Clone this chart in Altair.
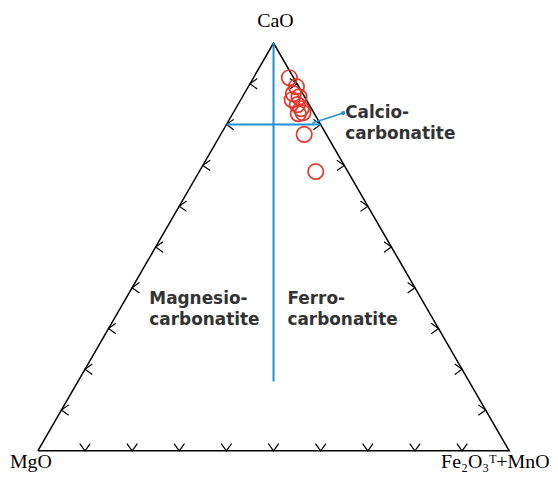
import altair as alt
import pandas as pd
import numpy as np

SQ = float(np.sqrt(3) / 2)

# ---- sample compositions (CaO, MgO, Fe2O3T+MnO, normalised %) ----
cao = [91.5, 89.3, 87.6, 86.1, 86.8, 84.9, 83.9, 82.9, 82.7, 77.6, 68.5]
feo = [7.6, 10.2, 10.4, 10.9, 12.0, 12.6, 13.9, 14.8, 13.9, 17.7, 24.7]
mgo = [round(100 - c - f, 1) for c, f in zip(cao, feo)]

# ---- frame / ticks / field boundaries (ternary %) ----
tick_levels = [10, 20, 30, 40, 50, 60, 70, 80, 90]
frame_cao = [0, 0, 100, 0]
frame_mgo = [100, 0, 0, 100]
frame_feo = [0, 100, 0, 0]

bound_seg = ["h", "h", "v", "v"]
bound_cao = [80, 80, 100, 17]
bound_mgo = [20, 0, 0, 41.5]
bound_feo = [0, 20, 0, 41.5]

vertex_text = ["CaO", "MgO", "Fe\u2082O\u2083\u1d40+MnO"]
vertex_x = [0.504, -0.0148, 0.9705]
vertex_y = [0.9008, -0.0359, -0.0359]

field_text = ["Magnesio-", "carbonatite", "Ferro-", "carbonatite", "Calcio-", "carbonatite"]
field_x = [0.2365, 0.2365, 0.5295, 0.5295, 0.6519, 0.6519]
field_y = [0.3228, 0.2785, 0.3228, 0.2785, 0.7173, 0.6730]

pointer_x = [0.5823, 0.6477]
pointer_y = [0.6962, 0.7173]


def tern(df):
    s = df["cao"] + df["mgo"] + df["feo"]
    df["X"] = (df["feo"] + df["cao"] / 2) / s
    df["Y"] = df["cao"] / s * SQ
    return df


samples = tern(pd.DataFrame({"cao": cao, "mgo": mgo, "feo": feo}))
frame = tern(pd.DataFrame({"cao": frame_cao, "mgo": frame_mgo, "feo": frame_feo,
                           "o": list(range(4))}))
bounds = tern(pd.DataFrame({"seg": bound_seg, "cao": bound_cao, "mgo": bound_mgo,
                            "feo": bound_feo}))

rows = []
for t in tick_levels:
    rows.append({"cao": 0, "mgo": 100 - t, "feo": t, "ang": 90})
    rows.append({"cao": t, "mgo": 100 - t, "feo": 0, "ang": 180})
    rows.append({"cao": t, "mgo": 0, "feo": 100 - t, "ang": 0})
ticks = tern(pd.DataFrame(rows))

vlab = pd.DataFrame({"t": vertex_text, "X": vertex_x, "Y": vertex_y})
flab = pd.DataFrame({"t": field_text, "X": field_x, "Y": field_y})
pointer = pd.DataFrame({"X": pointer_x, "Y": pointer_y, "o": [0, 1]})

xs = alt.Scale(domain=[-0.0633, 1.0865], nice=False, zero=False)
ys = alt.Scale(domain=[-0.0443, 0.9377], nice=False, zero=False)
X = alt.X("X:Q", scale=xs, axis=None)
Y = alt.Y("Y:Q", scale=ys, axis=None)

BLUE = "#1f90d0"
RED = "#e2382c"

frame_l = alt.Chart(frame).mark_line(color="black", strokeWidth=1.5).encode(
    x=X, y=Y, order="o:Q")

tick_l = alt.Chart(ticks).mark_point(
    shape="M-1.4,-1L0,0L-1.4,1", filled=False, color="black", size=110,
    strokeWidth=1.2, opacity=1).encode(x=X, y=Y, angle=alt.Angle("ang:Q", scale=None))

bound_l = alt.Chart(bounds).mark_line(color=BLUE, strokeWidth=2).encode(
    x=X, y=Y, detail="seg:N")

pointer_l = alt.Chart(pointer).mark_line(color=BLUE, strokeWidth=1.5).encode(
    x=X, y=Y, order="o:Q")
pointer_dot = alt.Chart(pointer[pointer.o == 1]).mark_point(
    shape="circle", filled=True, color=BLUE, size=18, opacity=1).encode(x=X, y=Y)

pts = alt.Chart(samples).mark_point(
    shape="circle", filled=False, color=RED, size=240, strokeWidth=1.7,
    opacity=1).encode(x=X, y=Y)

vtext = alt.Chart(vlab).mark_text(
    font="Liberation Serif", fontSize=20, color="black", align="center",
    baseline="alphabetic").encode(x=X, y=Y, text="t:N")

ftext = alt.Chart(flab).mark_text(
    font="DejaVu Sans", fontWeight="bold", fontSize=17, color="#333333",
    align="left", baseline="middle").encode(x=X, y=Y, text="t:N")

chart = alt.layer(frame_l, tick_l, bound_l, pointer_l, pointer_dot, pts,
                  vtext, ftext).properties(
    width=545, height=465, padding=0,
    autosize=alt.AutoSizeParams(type="none")
).configure_view(stroke=None)

chart.save("out.html", embed_options={"renderer": "svg", "actions": False})
